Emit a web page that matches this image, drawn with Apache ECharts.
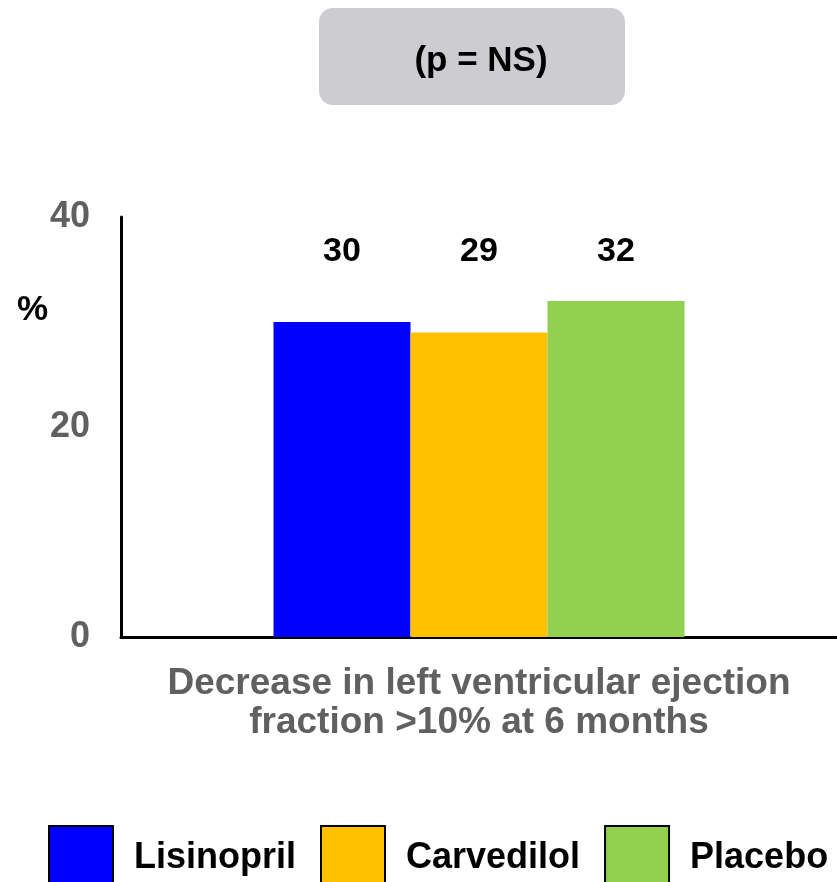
<!DOCTYPE html>
<html>
<head>
<meta charset="utf-8">
<script src="https://cdn.jsdelivr.net/npm/echarts@6/dist/echarts.min.js"></script>
<style>html,body{margin:0;padding:0;background:#fff}#c{width:837px;height:882px}</style>
</head>
<body>
<div id="c"></div>
<script>
const categories = ['Decrease in left ventricular ejection\nfraction >10% at 6 months'];
const seriesNames = ['Lisinopril', 'Carvedilol', 'Placebo'];
const seriesValues = [30, 29, 32];
const seriesColors = ['#0000FF', '#FFC000', '#92D050'];
const yTicks = [0, 20, 40];
const pValueText = '(p = NS)';
const yUnit = '%';

const FONT = '"Liberation Sans", Arial, Helvetica, sans-serif';
const labelLevel = 36.7;
const labelFont = 34;

const chart = echarts.init(document.getElementById('c'), null, {renderer: 'canvas'});

function buildOption(distances) {
  return {
    animation: false,
    textStyle: {fontFamily: FONT},
    grid: {left: 121, right: 0, top: 217, bottom: 245, containLabel: false},
    legend: {
      data: seriesNames,
      left: 48, top: 825, padding: 0,
      itemWidth: 64, itemHeight: 64, itemGap: 24,
      icon: 'rect',
      itemStyle: {borderColor: '#000', borderWidth: 2},
      textStyle: {fontSize: 36, fontWeight: 'bold', color: '#000', fontFamily: FONT, padding: [0, 0, 0, 16]}
    },
    xAxis: {
      type: 'category',
      data: categories,
      axisLine: {show: true, lineStyle: {color: '#000', width: 3}},
      axisTick: {show: false},
      axisLabel: {show: false},
      name: categories[0],
      nameLocation: 'middle',
      nameGap: 27,
      nameTextStyle: {fontSize: 37, fontWeight: 'bold', color: '#606060', lineHeight: 39, fontFamily: FONT}
    },
    yAxis: {
      type: 'value',
      min: yTicks[0], max: yTicks[yTicks.length - 1], interval: yTicks[1] - yTicks[0],
      axisLine: {show: true, lineStyle: {color: '#000', width: 3}},
      axisTick: {show: false},
      splitLine: {show: false},
      axisLabel: {fontSize: 36, fontWeight: 'bold', color: '#606060', margin: 31, fontFamily: FONT}
    },
    graphic: [
      {type: 'rect', left: 319, top: 8, shape: {width: 306, height: 97, r: 14}, style: {fill: '#cdcdd1'}},
      {type: 'text', x: 481, y: 61, style: {text: pValueText, font: 'bold 35px ' + FONT, fill: '#000', textAlign: 'center', textVerticalAlign: 'middle'}},
      {type: 'text', x: 17, y: 310, style: {text: yUnit, font: 'bold 35px ' + FONT, fill: '#000', textAlign: 'left', textVerticalAlign: 'middle'}}
    ],
    series: seriesNames.map((n, i) => ({
      name: n,
      type: 'bar',
      data: [seriesValues[i]],
      barWidth: 137,
      barGap: '0%',
      itemStyle: {color: seriesColors[i]},
      label: {
        show: true, position: 'top',
        distance: distances ? distances[i] : 5,
        fontSize: labelFont, fontWeight: 'bold', color: '#000', fontFamily: FONT
      }
    }))
  };
}

chart.setOption(buildOption(null));
const levelPx = chart.convertToPixel({yAxisIndex: 0}, labelLevel);
const distances = seriesValues.map(v => chart.convertToPixel({yAxisIndex: 0}, v) - levelPx - labelFont / 2);
chart.setOption(buildOption(distances));
</script>
</body>
</html>
